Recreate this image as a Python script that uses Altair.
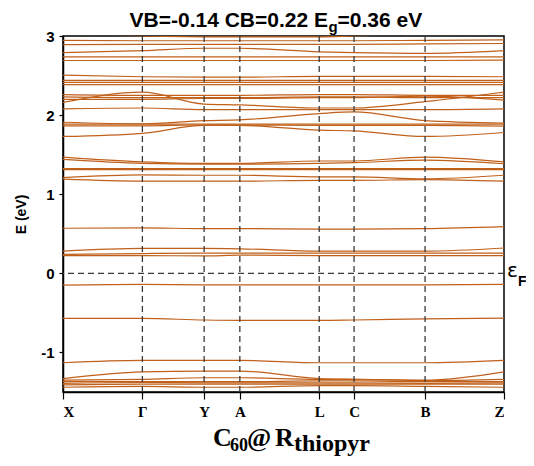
import altair as alt
import pandas as pd

# k-path (normalised distance) and labels
k_pos = [0.0, 0.180, 0.320, 0.401, 0.581, 0.660, 0.821, 1.0]
k_labels = ["X", "Γ", "Y", "A", "L", "C", "B", "Z"]

# band energies (eV) at X, Γ, Y, A, L, C, B, Z
bands_top = [
    [3.02, 3.00, 2.99, 2.99, 2.99, 3.00, 3.02, 3.03],
    [2.945, 2.94, 2.94, 2.94, 2.94, 2.94, 2.945, 2.95],
    [2.89, 2.895, 2.895, 2.895, 2.895, 2.895, 2.90, 2.905],
    [2.79, 2.815, 2.845, 2.845, 2.80, 2.79, 2.78, 2.815],
    [2.735, 2.735, 2.735, 2.735, 2.735, 2.735, 2.735, 2.735],
    [2.69, 2.69, 2.69, 2.69, 2.69, 2.69, 2.69, 2.695],
    [2.505, 2.485, 2.48, 2.48, 2.49, 2.49, 2.49, 2.485],
    [2.44, 2.44, 2.44, 2.44, 2.44, 2.44, 2.44, 2.44],
    [2.415, 2.415, 2.415, 2.415, 2.415, 2.415, 2.415, 2.415],
    [2.385, 2.385, 2.385, 2.385, 2.385, 2.385, 2.385, 2.385],
]
bands_22 = [
    [2.26, 2.25, 2.25, 2.25, 2.26, 2.26, 2.25, 2.25],
    [2.23, 2.22, 2.22, 2.22, 2.23, 2.23, 2.22, 2.22],
    [2.20, 2.20, 2.21, 2.21, 2.22, 2.22, 2.24, 2.19],
    [2.16, 2.29, 2.14, 2.13, 2.09, 2.09, 2.17, 2.29],
    [2.08, 2.09, 2.07, 2.07, 2.07, 2.07, 2.07, 2.08],
]
bands_19 = [
    [1.91, 1.89, 1.93, 1.94, 2.02, 2.04, 1.93, 1.90],
    [1.885, 1.885, 1.885, 1.885, 1.885, 1.885, 1.885, 1.885],
    [1.865, 1.865, 1.875, 1.875, 1.87, 1.87, 1.87, 1.86],
    [1.73, 1.77, 1.87, 1.87, 1.81, 1.80, 1.73, 1.78],
]
bands_13 = [
    [1.47, 1.41, 1.39, 1.39, 1.42, 1.42, 1.47, 1.41],
    [1.44, 1.39, 1.38, 1.38, 1.39, 1.40, 1.43, 1.385],
    [1.325, 1.325, 1.325, 1.325, 1.325, 1.325, 1.325, 1.325],
    [1.31, 1.31, 1.31, 1.31, 1.31, 1.31, 1.31, 1.31],
    [1.21, 1.245, 1.24, 1.24, 1.22, 1.22, 1.195, 1.24],
    [1.19, 1.165, 1.165, 1.165, 1.175, 1.175, 1.185, 1.165],
]
bands_cond_low = [
    [0.57, 0.575, 0.565, 0.565, 0.56, 0.56, 0.565, 0.59],
    [0.28, 0.315, 0.315, 0.31, 0.28, 0.28, 0.28, 0.32],
    [0.24, 0.25, 0.255, 0.255, 0.255, 0.255, 0.255, 0.255],
    [0.225, 0.225, 0.22, 0.23, 0.225, 0.225, 0.225, 0.225],
]
bands_val = [
    [-0.15, -0.14, -0.145, -0.145, -0.145, -0.145, -0.145, -0.14],
    [-0.57, -0.57, -0.59, -0.595, -0.595, -0.59, -0.575, -0.565],
    [-1.13, -1.10, -1.10, -1.10, -1.13, -1.13, -1.13, -1.10],
    [-1.33, -1.245, -1.235, -1.235, -1.33, -1.34, -1.35, -1.245],
    [-1.35, -1.34, -1.32, -1.32, -1.34, -1.34, -1.355, -1.34],
    [-1.37, -1.37, -1.37, -1.37, -1.36, -1.36, -1.37, -1.37],
    [-1.39, -1.38, -1.385, -1.385, -1.385, -1.385, -1.39, -1.385],
    [-1.41, -1.40, -1.40, -1.40, -1.40, -1.40, -1.40, -1.40],
    [-1.44, -1.43, -1.44, -1.44, -1.42, -1.42, -1.43, -1.44],
]
fermi = [0.0]
y_ticks = [-1, 0, 1, 2, 3]

all_bands = bands_top + bands_22 + bands_19 + bands_13 + bands_cond_low + bands_val
rows = []
for bi, band in enumerate(all_bands):
    for k, e in zip(k_pos, band):
        rows.append({"k": k, "E": e, "band": bi})
df = pd.DataFrame(rows)

x_scale = alt.Scale(domain=[0, 1], nice=False, zero=False)
y_scale = alt.Scale(domain=[-1.5, 3], nice=False, zero=False)

parts = []
for i in range(len(k_pos) - 1):
    mid = (k_pos[i] + k_pos[i + 1]) / 2
    parts.append(f"datum.value < {mid:.4f} ? '{k_labels[i]}' : ")
label_expr = "".join(parts) + f"'{k_labels[-1]}'"

x_axis = alt.Axis(values=k_pos, labelExpr=label_expr, title=None, grid=False,
                  tickSize=7, tickColor="black", tickWidth=1.2,
                  domainColor="black", domainWidth=1.5,
                  labelFont="Liberation Serif", labelFontWeight="bold",
                  labelFontSize=15, labelColor="black", labelPadding=5)
y_axis = alt.Axis(values=y_ticks, labelExpr="datum.value + ''", title="E (eV)",
                  grid=False, tickSize=4, tickColor="black", tickWidth=1.2,
                  domainColor="black", domainWidth=1.5,
                  labelFont="Liberation Sans", labelFontWeight="bold",
                  labelFontSize=15, labelColor="black", labelPadding=5,
                  titleFont="Liberation Sans", titleFontWeight="bold",
                  titleFontSize=14, titleColor="black", titlePadding=12)

bands = alt.Chart(df).mark_line(
    interpolate="monotone", color="#c0601a", strokeWidth=1.2, clip=True
).encode(
    x=alt.X("k:Q", scale=x_scale, axis=x_axis),
    y=alt.Y("E:Q", scale=y_scale, axis=y_axis),
    detail="band:N",
)

vlines = alt.Chart(pd.DataFrame({"k": k_pos[1:-1]})).mark_rule(
    strokeDash=[6, 4], color="#3a3a3a", strokeWidth=1.3
).encode(x=alt.X("k:Q", scale=x_scale))

hline = alt.Chart(pd.DataFrame({"E": fermi})).mark_rule(
    strokeDash=[6, 4], color="#3a3a3a", strokeWidth=1.3
).encode(y=alt.Y("E:Q", scale=y_scale))


def txt(s, x, y, size, font="Liberation Sans", weight="bold", align="left"):
    return alt.Chart(pd.DataFrame({"t": [s]})).mark_text(
        align=align, baseline="alphabetic", font=font, fontSize=size,
        fontWeight=weight, color="black"
    ).encode(x=alt.value(x), y=alt.value(y), text="t:N")


texts = [
    txt("VB=-0.14 CB=0.22 E", 265, -9.5, 21, align="right"),
    txt("g", 265.5, -4.5, 15),
    txt("=0.36 eV", 274.5, -9.5, 21),
    txt("ε", 444, 241, 20, font="DejaVu Sans", weight="normal"),
    txt("F", 455, 250, 14),
    txt("C", 150, 410, 26, font="Liberation Serif"),
    txt("60", 167, 415, 18, font="Liberation Serif"),
    txt("@", 184, 410, 26, font="Liberation Serif"),
    txt("R", 212, 410, 26, font="Liberation Serif"),
    txt("thiopyr", 231, 415, 24, font="Liberation Serif"),
]

chart = alt.layer(bands, vlines, hline, *texts).properties(
    width=441, height=356,
    padding={"left": 55, "top": 28, "right": 22, "bottom": 66},
    autosize=alt.AutoSizeParams(type="none"),
).configure_view(stroke="black", strokeWidth=1.5)

chart.save("out.html", embed_options={"renderer": "svg", "actions": False})
